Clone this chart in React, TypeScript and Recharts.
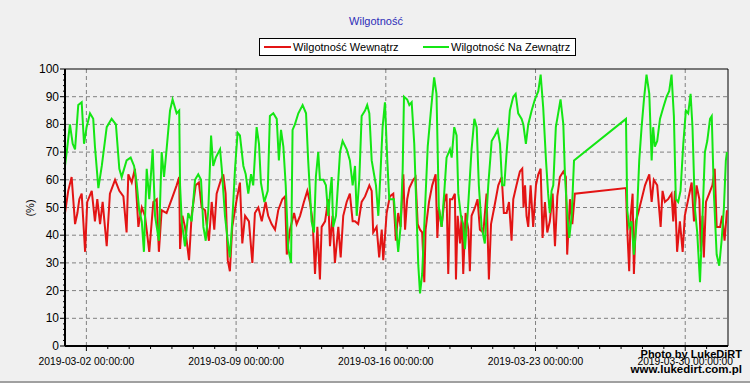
import React from 'react';
import { LineChart, Line, XAxis, YAxis, ReferenceLine } from 'recharts';

// time in days since 2019-03-01 00:00
const indoorT = [0.00,0.15,0.31,0.47,0.58,0.67,0.78,0.94,1.04,1.25,1.40,1.51,1.64,1.76,1.95,2.10,2.34,2.54,2.73,2.88,2.96,3.12,3.27,3.43,3.59,3.74,3.94,4.13,4.29,4.39,4.52,4.75,4.99,5.22,5.34,5.38,5.49,5.61,5.80,5.92,6.11,6.26,6.39,6.55,6.62,6.73,6.86,6.98,7.09,7.25,7.40,7.51,7.61,7.71,7.82,8.03,8.18,8.29,8.42,8.60,8.76,8.88,9.04,9.20,9.38,9.50,9.66,9.82,9.97,10.16,10.29,10.37,10.52,10.71,10.83,10.99,11.17,11.33,11.45,11.58,11.69,11.80,11.92,12.00,12.16,12.31,12.39,12.51,12.62,12.78,12.89,13.01,13.17,13.32,13.45,13.56,13.71,13.87,14.03,14.23,14.34,14.41,14.57,14.69,14.81,14.88,15.04,15.19,15.35,15.47,15.58,15.69,15.82,15.90,16.00,16.10,16.28,16.39,16.49,16.60,16.70,16.80,16.86,17.02,17.17,17.33,17.41,17.48,17.61,17.73,17.84,17.92,18.00,18.11,18.23,18.28,18.36,18.47,18.55,18.62,18.73,18.86,18.93,19.01,19.17,19.29,19.40,19.56,19.71,19.82,19.92,20.07,20.26,20.42,20.52,20.65,20.76,20.88,20.96,21.11,21.27,21.38,21.44,21.51,21.58,21.66,21.77,21.89,22.02,22.13,22.24,22.33,22.44,22.55,22.67,22.80,22.91,23.02,23.14,23.30,23.42,23.48,23.61,23.72,23.84,26.23,26.29,26.38,26.45,26.54,26.60,26.69,26.80,26.96,27.12,27.32,27.43,27.53,27.69,27.85,27.94,28.05,28.20,28.36,28.44,28.52,28.62,28.75,28.88,28.98,29.14,29.30,29.41,29.53,29.66,29.73,29.81,29.87,29.97,30.12,30.27,30.38,30.47,30.63,30.73,30.84,30.95];
const indoorV = [48,56,61,44,48,53,55,34,52,56,45,53,44,52,36,55,60,56,54,41,62,59,64,43,50,47,34,52,53,34,49,48,53,58,61,35,47,43,31,47,58,59,50,49,44,38,52,42,55,59,62,55,31,27,43,53,59,37,47,45,30,48,50,45,52,47,44,42,49,53,54,33,42,48,44,47,52,56,52,45,26,43,24,43,45,53,36,47,30,43,32,47,52,55,45,45,44,52,54,58,56,41,43,32,42,31,48,54,55,38,48,43,62,42,53,57,60,61,44,42,41,23,42,52,58,62,39,50,43,52,55,26,53,53,55,24,47,37,47,26,48,42,27,47,50,53,42,41,55,24,44,50,58,61,48,48,52,38,53,58,63,64,50,58,47,43,58,43,58,62,64,39,52,41,45,55,36,54,61,63,61,33,53,44,55,57,42,27,47,55,26,45,48,53,58,62,52,60,58,43,56,52,53,55,45,56,34,45,34,47,53,59,45,58,53,34,47,32,52,55,58,64,43,43,47,38,49];

const outdoorT = [0.00,0.11,0.23,0.36,0.47,0.62,0.78,0.89,1.01,1.17,1.32,1.40,1.56,1.72,1.95,2.18,2.38,2.54,2.65,2.88,3.07,3.23,3.35,3.47,3.59,3.69,3.82,3.94,4.10,4.21,4.39,4.52,4.63,4.75,4.91,5.03,5.22,5.34,5.38,5.46,5.61,5.76,5.92,6.08,6.23,6.36,6.47,6.58,6.70,6.83,6.93,7.05,7.25,7.33,7.48,7.61,7.71,7.82,7.95,8.07,8.18,8.34,8.45,8.57,8.70,8.80,8.96,9.07,9.16,9.32,9.48,9.58,9.74,9.90,10.00,10.10,10.21,10.32,10.44,10.57,10.64,10.75,10.91,11.11,11.27,11.37,11.53,11.64,11.73,11.84,11.92,12.08,12.20,12.31,12.39,12.47,12.54,12.67,12.86,12.98,13.17,13.32,13.45,13.56,13.64,13.76,13.87,14.03,14.13,14.23,14.34,14.45,14.54,14.65,14.76,14.85,14.96,15.07,15.16,15.27,15.38,15.47,15.58,15.69,15.79,15.85,16.00,16.10,16.21,16.33,16.44,16.52,16.60,16.70,16.83,16.96,17.11,17.26,17.37,17.48,17.61,17.73,17.84,18.00,18.08,18.20,18.31,18.39,18.51,18.62,18.70,18.83,19.01,19.14,19.25,19.35,19.48,19.63,19.79,19.95,20.10,20.23,20.34,20.44,20.54,20.65,20.80,20.96,21.07,21.19,21.35,21.43,21.55,21.66,21.82,21.97,22.13,22.24,22.36,22.49,22.59,22.67,22.75,22.83,22.95,23.06,23.17,23.30,23.38,23.48,23.58,23.69,23.80,26.23,26.29,26.38,26.49,26.60,26.73,26.85,26.96,27.07,27.19,27.32,27.43,27.50,27.58,27.69,27.82,27.97,28.13,28.25,28.36,28.47,28.56,28.67,28.78,28.91,29.03,29.14,29.25,29.34,29.45,29.56,29.69,29.81,29.92,30.03,30.16,30.24,30.34,30.47,30.59,30.70,30.81,30.90,30.95];
const outdoorV = [65,72,80,73,71,87,88,73,79,84,82,72,57,65,79,82,80,64,61,67,68,65,59,49,45,34,64,53,71,47,38,70,61,71,85,89,84,85,58,45,36,48,45,60,62,60,43,38,49,76,65,68,71,64,47,38,32,45,64,77,76,65,62,55,62,58,79,73,59,52,56,83,84,82,67,78,72,58,35,30,78,80,84,87,84,67,45,41,61,70,60,60,58,47,55,61,43,47,70,74,71,67,58,65,47,60,83,85,87,84,67,62,58,47,64,79,88,67,53,53,53,44,34,43,64,90,89,87,88,73,47,29,19,26,49,72,85,97,91,50,43,55,68,71,68,79,76,55,47,44,35,48,71,82,79,58,43,37,58,74,76,78,73,58,58,70,85,90,91,84,82,80,73,80,85,89,92,98,86,67,55,48,56,58,79,84,89,80,61,48,39,47,67,82,49,43,45,33,45,67,79,89,98,91,67,79,72,74,82,86,90,92,98,83,53,52,56,73,85,84,91,79,50,41,23,47,70,74,82,83,55,33,29,38,50,67,70];

const xMajorDays = [1, 8, 15, 22, 29];
const xTickLabels = ['2019-03-02 00:00:00', '2019-03-09 00:00:00', '2019-03-16 00:00:00', '2019-03-23 00:00:00', '2019-03-30 00:00:00'];
const yMajor = [0, 10, 20, 30, 40, 50, 60, 70, 80, 90, 100];
const seriesNames = ['Wilgotność Wewnątrz', 'Wilgotność Na Zewnątrz'];
const title = 'Wilgotność';

const indoor = indoorT.map((t, i) => ({ t, v: indoorV[i] }));
const outdoor = outdoorT.map((t, i) => ({ t, v: outdoorV[i] }));

const xTicks: number[] = [];
for (let d = 1; d <= 30; d++) xTicks.push(d);
const yTicks: number[] = [];
for (let v = 0; v <= 100; v += 2) yTicks.push(v);

const FONT = '"Liberation Sans", Arial, sans-serif';
const RED = '#e31414';
const GREEN = '#14e614';

const YTick = (props: any) => {
  const { x, y, payload } = props;
  const v = payload.value;
  const major = v % 10 === 0;
  return (
    <g>
      <line x1={x - (major ? 5 : 2)} x2={x} y1={y} y2={y} stroke="#000" strokeWidth={1} />
      {major && (
        <text x={x - 6} y={y} textAnchor="end" dominantBaseline="central" fontSize={12} fontFamily={FONT} fill="#000">
          {v}
        </text>
      )}
    </g>
  );
};

const XTick = (props: any) => {
  const { x, y, payload } = props;
  const d = payload.value;
  const idx = xMajorDays.indexOf(d);
  return (
    <g>
      <line x1={x} x2={x} y1={y} y2={y + (idx >= 0 ? 5 : 3)} stroke="#000" strokeWidth={1} />
      {idx >= 0 && (
        <text x={x} y={y + 15} textAnchor="middle" dominantBaseline="central" fontSize={10.3} fontFamily={FONT} fill="#000">
          {xTickLabels[idx]}
        </text>
      )}
    </g>
  );
};

export default function App() {
  return (
    <div style={{ position: 'absolute', left: 0, top: 0, width: 750, height: 383, background: '#f0f0f0', fontFamily: FONT, overflow: 'hidden' }}>
      <LineChart width={750} height={383} margin={{ top: 69, right: 22, bottom: 0, left: 0 }}>
        <XAxis
          type="number"
          dataKey="t"
          domain={[0, 31]}
          ticks={xTicks}
          interval={0}
          allowDataOverflow
          height={37}
          tickSize={0}
          tickMargin={0}
          tickLine={false}
          axisLine={{ stroke: '#000', strokeWidth: 2 }}
          tick={<XTick />}
        />
        <YAxis
          type="number"
          domain={[0, 100]}
          ticks={yTicks}
          interval={0}
          width={65}
          tickSize={0}
          tickMargin={0}
          tickLine={false}
          axisLine={{ stroke: '#000', strokeWidth: 2 }}
          tick={<YTick />}
        />
        {yMajor.filter((v) => v > 0 && v < 100).map((v) => (
          <ReferenceLine key={'h' + v} y={v} stroke="#808080" strokeDasharray="4 3" />
        ))}
        {xMajorDays.map((d) => (
          <ReferenceLine key={'v' + d} x={d} stroke="#808080" strokeDasharray="4 3" />
        ))}
        <ReferenceLine y={100} stroke="#000" />
        <ReferenceLine x={31} stroke="#000" />
        <Line data={indoor} dataKey="v" type="linear" stroke={RED} strokeWidth={2} dot={false} isAnimationActive={false} />
        <Line data={outdoor} dataKey="v" type="linear" stroke={GREEN} strokeWidth={2} dot={false} isAnimationActive={false} />
      </LineChart>

      <div style={{ position: 'absolute', left: 0, width: 750, top: 14, textAlign: 'center', fontSize: 11, color: '#2d2db8', lineHeight: '14px' }}>
        <span style={{ position: 'relative', left: 1 }}>{title}</span>
      </div>

      <div style={{ position: 'absolute', left: 259, top: 38, width: 315, height: 16, background: '#fff', border: '1px solid #000', fontSize: 11, lineHeight: '16px', color: '#000' }}>
        <div style={{ position: 'absolute', left: 4, top: 7, width: 27, height: 2, background: RED }} />
        <div style={{ position: 'absolute', left: 33, top: 0, whiteSpace: 'nowrap' }}>{seriesNames[0]}</div>
        <div style={{ position: 'absolute', left: 163, top: 7, width: 26, height: 2, background: GREEN }} />
        <div style={{ position: 'absolute', left: 191, top: 0, whiteSpace: 'nowrap' }}>{seriesNames[1]}</div>
      </div>

      <div style={{ position: 'absolute', left: 30, top: 208, transform: 'translate(-50%, -50%) rotate(-90deg)', fontSize: 11, color: '#000', whiteSpace: 'nowrap' }}>
        (%)
      </div>

      <div style={{ position: 'absolute', right: 8, top: 347, textAlign: 'right', fontSize: 11, fontWeight: 'bold', lineHeight: '14.5px', color: '#000' }}>
        <div>Photo by LukeDiRT</div>
        <div style={{ fontSize: 11.5 }}>www.lukedirt.com.pl</div>
      </div>

      <div style={{ position: 'absolute', left: 0, top: 381, width: 750, height: 2, background: '#a0a0a0' }} />
    </div>
  );
}
